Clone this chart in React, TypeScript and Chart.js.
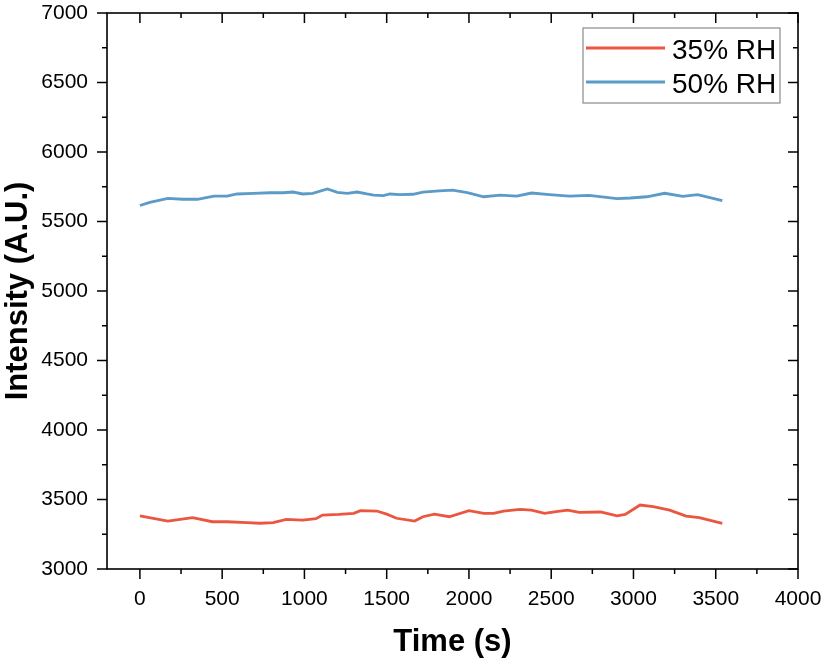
import React, { useEffect, useRef } from "react";
import { Chart, registerables } from "chart.js";

Chart.register(...registerables);

const time35 = [0, 170, 320, 440, 530, 650, 730, 810, 890, 990, 1070, 1110, 1210, 1300, 1340, 1440, 1500, 1560, 1670, 1720, 1790, 1880, 2000, 2090, 2150, 2210, 2310, 2380, 2460, 2530, 2600, 2670, 2800, 2900, 2950, 3040, 3120, 3220, 3320, 3400, 3540];
const rh35 = [3383, 3345, 3369, 3340, 3340, 3333, 3329, 3333, 3357, 3352, 3362, 3388, 3393, 3400, 3420, 3417, 3395, 3365, 3345, 3376, 3395, 3376, 3420, 3400, 3400, 3417, 3429, 3424, 3400, 3412, 3424, 3408, 3410, 3383, 3393, 3460, 3448, 3424, 3381, 3369, 3329];

const time50 = [0, 60, 170, 260, 350, 450, 530, 590, 690, 790, 870, 930, 990, 1050, 1140, 1200, 1260, 1320, 1380, 1420, 1480, 1520, 1580, 1660, 1720, 1820, 1900, 1990, 2090, 2190, 2290, 2380, 2490, 2610, 2730, 2900, 2980, 3080, 3190, 3300, 3390, 3540];
const rh50 = [5615, 5638, 5667, 5660, 5660, 5683, 5683, 5698, 5703, 5707, 5707, 5712, 5698, 5703, 5734, 5710, 5703, 5712, 5698, 5690, 5686, 5698, 5694, 5696, 5712, 5721, 5725, 5707, 5678, 5690, 5683, 5705, 5693, 5683, 5688, 5664, 5669, 5678, 5703, 5681, 5693, 5650];

const seriesLabels = ["35% RH", "50% RH"];
const seriesColors = ["#EB5640", "#5B9BC8"];

const xTicks = [0, 500, 1000, 1500, 2000, 2500, 3000, 3500, 4000];
const yTicks = [3000, 3500, 4000, 4500, 5000, 5500, 6000, 6500, 7000];
const xMinorStep = 250;
const yMinorStep = 250;

const FONT = "'Liberation Sans', Arial, sans-serif";

const framePlugin = {
  id: "frameTicks",
  afterDraw(chart: any) {
    const { ctx, chartArea, scales } = chart;
    const { left, right, top, bottom } = chartArea;
    const xs = scales.x;
    const ys = scales.y;
    ctx.save();
    ctx.strokeStyle = "#000";
    ctx.lineWidth = 1.6;
    ctx.strokeRect(left, top, right - left, bottom - top);
    ctx.lineWidth = 1.5;
    const major = 10;
    const minor = 5;
    ctx.beginPath();
    for (let v = xTicks[0]; v <= xTicks[xTicks.length - 1]; v += xMinorStep) {
      const px = xs.getPixelForValue(v);
      const len = v % 500 === 0 ? major : minor;
      ctx.moveTo(px, bottom);
      ctx.lineTo(px, bottom + len);
      ctx.moveTo(px, top);
      ctx.lineTo(px, top + len);
    }
    for (let v = yTicks[0]; v <= yTicks[yTicks.length - 1]; v += yMinorStep) {
      const py = ys.getPixelForValue(v);
      const len = v % 500 === 0 ? major : minor;
      ctx.moveTo(left, py);
      ctx.lineTo(left - len, py);
      ctx.moveTo(right, py);
      ctx.lineTo(right - len, py);
    }
    ctx.stroke();

    // legend
    const bx = right - 215;
    const by = top + 15;
    const bw = 197;
    const bh = 75;
    ctx.fillStyle = "#fff";
    ctx.fillRect(bx, by, bw, bh);
    ctx.strokeStyle = "#8a8a8a";
    ctx.lineWidth = 1.2;
    ctx.strokeRect(bx, by, bw, bh);
    chart.data.datasets.forEach((ds: any, i: number) => {
      const ly = by + 20 + i * 34;
      ctx.strokeStyle = ds.borderColor;
      ctx.lineWidth = 3;
      ctx.beginPath();
      ctx.moveTo(bx + 3, ly);
      ctx.lineTo(bx + 82, ly);
      ctx.stroke();
      ctx.fillStyle = "#000";
      ctx.font = `28px ${FONT}`;
      ctx.textAlign = "left";
      ctx.textBaseline = "alphabetic";
      ctx.fillText(ds.label, bx + 89, ly + 11);
    });
    ctx.restore();
  },
};

const zeroPad = (s: any) => {
  s.paddingTop = 0;
  s.paddingBottom = 0;
  s.paddingLeft = 0;
  s.paddingRight = 0;
};

export default function App() {
  const ref = useRef<HTMLCanvasElement | null>(null);
  useEffect(() => {
    if (!ref.current) return;
    const chart = new Chart(ref.current, {
      type: "line",
      data: {
        datasets: [
          {
            label: seriesLabels[0],
            data: time35.map((t, i) => ({ x: t, y: rh35[i] })),
            borderColor: seriesColors[0],
            backgroundColor: seriesColors[0],
            borderWidth: 2.8,
            pointRadius: 0,
            tension: 0,
          },
          {
            label: seriesLabels[1],
            data: time50.map((t, i) => ({ x: t, y: rh50[i] })),
            borderColor: seriesColors[1],
            backgroundColor: seriesColors[1],
            borderWidth: 2.8,
            pointRadius: 0,
            tension: 0,
          },
        ],
      },
      options: {
        responsive: false,
        animation: false,
        layout: { padding: { top: 13, right: 27, left: 0, bottom: 0 } },
        plugins: { legend: { display: false }, tooltip: { enabled: false } },
        scales: {
          x: {
            type: "linear",
            min: -200,
            max: 4000,
            afterBuildTicks: (s: any) => {
              s.ticks = xTicks.map((v) => ({ value: v }));
            },
            afterFit: (s: any) => {
              s.height = 92;
              zeroPad(s);
            },
            grid: { display: false, drawTicks: false },
            border: { display: false },
            ticks: {
              color: "#000",
              font: { family: FONT, size: 21 },
              padding: 18,
              maxRotation: 0,
              autoSkip: false,
              callback: (v: any) => String(v),
            },
            title: {
              display: true,
              text: "Time (s)",
              color: "#000",
              font: { family: FONT, size: 31, weight: "bold" },
              padding: { top: 0, bottom: 0 },
            },
          },
          y: {
            type: "linear",
            min: 3000,
            max: 7000,
            afterBuildTicks: (s: any) => {
              s.ticks = yTicks.map((v) => ({ value: v }));
            },
            afterFit: (s: any) => {
              s.width = 107;
              zeroPad(s);
            },
            grid: { display: false, drawTicks: false },
            border: { display: false },
            ticks: {
              color: "#000",
              font: { family: FONT, size: 21 },
              padding: 19,
              autoSkip: false,
              callback: (v: any) => String(v),
            },
            title: {
              display: true,
              text: "Intensity (A.U.)",
              color: "#000",
              font: { family: FONT, size: 31, weight: "bold" },
              padding: { top: 0, bottom: 0 },
            },
          },
        },
      },
      plugins: [framePlugin],
    });
    return () => chart.destroy();
  }, []);
  return (
    <div style={{ position: "fixed", left: 0, top: 0, width: 825, height: 661, background: "#fff" }}>
      <canvas ref={ref} width={825} height={661} style={{ display: "block" }} />
    </div>
  );
}
